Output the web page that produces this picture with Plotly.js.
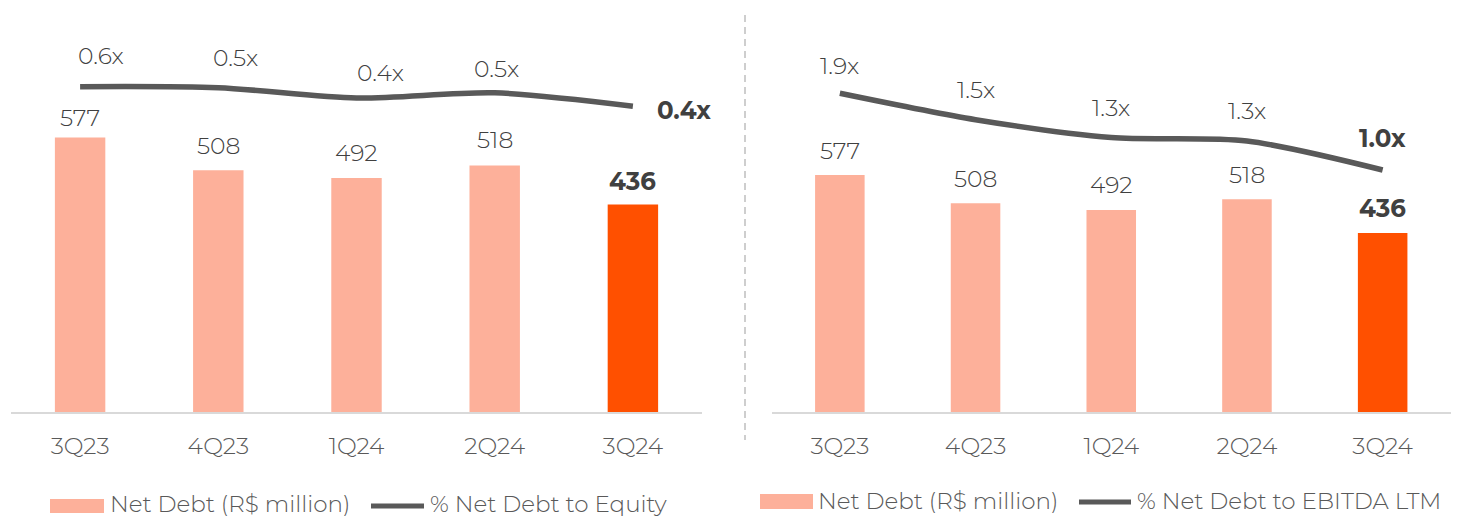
<!DOCTYPE html>
<html>
<head>
<meta charset="utf-8">
<script src="https://cdn.plot.ly/plotly-3.0.1.min.js"></script>
<style>
  html, body { margin: 0; padding: 0; background: #ffffff; }
  #chart { width: 1462px; height: 518px; }
</style>
</head>
<body>
<div id="chart"></div>
<script>
// ---- Data ----
const categories = ['3Q23', '4Q23', '1Q24', '2Q24', '3Q24'];
const netDebt = [577, 508, 492, 518, 436];
const debtToEquity = [0.55, 0.54, 0.44, 0.49, 0.36];
const debtToEquityLabels = ['0.6x', '0.5x', '0.4x', '0.5x', '0.4x'];
const debtToEbitda = [1.90, 1.59, 1.38, 1.34, 1.00];
const debtToEbitdaLabels = ['1.9x', '1.5x', '1.3x', '1.3x', '1.0x'];
const barSeriesName = 'Net Debt (R$ million)';
const leftLineName = '% Net Debt to Equity';
const rightLineName = '% Net Debt to EBITDA LTM';

// ---- Style ----
const W = 1462, H = 518;
const FONT = "Montserrat, 'Open Sans', sans-serif";
const LIGHT = '#FDB09A';
const HIGHLIGHT = '#FF5000';
const LINE = '#595959';
const TEXT = '#404040';
const TICK = '#595959';
const px = x => x / W;
const py = y => (H - y) / H;
const REG = { family: FONT, size: 23.5, color: TEXT, weight: 300 };
const BOLD = { family: FONT, size: 24.5, color: TEXT, weight: 700 };

const last = categories.length - 1;
const barColors = categories.map((c, i) => i === last ? HIGHLIGHT : LIGHT);

const traces = [
  { type: 'bar', x: categories, y: netDebt, xaxis: 'x', yaxis: 'y', width: 0.365,
    marker: { color: barColors }, name: barSeriesName, hoverinfo: 'skip' },
  { type: 'scatter', mode: 'lines', x: categories, y: debtToEquity, xaxis: 'x', yaxis: 'y2',
    line: { color: LINE, width: 5.5, shape: 'spline', smoothing: 0.8 }, name: leftLineName, hoverinfo: 'skip' },
  { type: 'bar', x: categories, y: netDebt, xaxis: 'x2', yaxis: 'y3', width: 0.365,
    marker: { color: barColors }, name: barSeriesName, hoverinfo: 'skip' },
  { type: 'scatter', mode: 'lines', x: categories, y: debtToEbitda, xaxis: 'x2', yaxis: 'y4',
    line: { color: LINE, width: 5.5, shape: 'spline', smoothing: 0.8 }, name: rightLineName, hoverinfo: 'skip' }
];

const annotations = [];
// bar value labels
const leftBarShift = [20, 25, 25, 26, 24];
categories.forEach((c, i) => {
  const bold = i === last;
  annotations.push({ xref: 'x', yref: 'y', x: c, y: netDebt[i], showarrow: false,
    text: bold ? '<b>' + netDebt[i] + '</b>' : String(netDebt[i]),
    yanchor: 'middle', yshift: leftBarShift[i], font: bold ? BOLD : REG });
  annotations.push({ xref: 'x2', yref: 'y3', x: c, y: netDebt[i], showarrow: false,
    text: bold ? '<b>' + netDebt[i] + '</b>' : String(netDebt[i]),
    yanchor: 'middle', yshift: 25, font: bold ? BOLD : REG });
});
// line labels left
const leftLineYShift = [31, 30, 25, 24];
const leftLineXShift = [21, 17, 24, 2];
categories.forEach((c, i) => {
  if (i === last) {
    annotations.push({ xref: 'x', yref: 'y2', x: c, y: debtToEquity[i], showarrow: false,
      text: '<b>' + debtToEquityLabels[i] + '</b>', xanchor: 'left', yanchor: 'middle',
      xshift: 22, yshift: -4, font: BOLD });
  } else {
    annotations.push({ xref: 'x', yref: 'y2', x: c, y: debtToEquity[i], showarrow: false,
      text: debtToEquityLabels[i], yanchor: 'middle',
      xshift: leftLineXShift[i], yshift: leftLineYShift[i], font: REG });
  }
});
// line labels right
const rightLineYShift = [28, 30, 30, 31, 32];
categories.forEach((c, i) => {
  const bold = i === last;
  annotations.push({ xref: 'x2', yref: 'y4', x: c, y: debtToEbitda[i], showarrow: false,
    text: bold ? '<b>' + debtToEbitdaLabels[i] + '</b>' : debtToEbitdaLabels[i], yanchor: 'middle',
    yshift: rightLineYShift[i], font: bold ? BOLD : REG });
});

// manual legends
const legendFont = { family: FONT, size: 23, color: TICK, weight: 300 };
annotations.push({ xref: 'paper', yref: 'paper', x: px(108), y: py(503.5), xanchor: 'left', yanchor: 'middle',
  showarrow: false, text: barSeriesName, font: legendFont });
annotations.push({ xref: 'paper', yref: 'paper', x: px(428), y: py(503.5), xanchor: 'left', yanchor: 'middle',
  showarrow: false, text: leftLineName, font: legendFont });
annotations.push({ xref: 'paper', yref: 'paper', x: px(816), y: py(501), xanchor: 'left', yanchor: 'middle',
  showarrow: false, text: barSeriesName, font: legendFont });
annotations.push({ xref: 'paper', yref: 'paper', x: px(1135), y: py(501), xanchor: 'left', yanchor: 'middle',
  showarrow: false, text: rightLineName, font: legendFont });

const shapes = [
  // divider
  { type: 'line', xref: 'paper', yref: 'paper', x0: px(745), x1: px(745), y0: py(15), y1: py(440),
    line: { color: '#BFBFBF', width: 1.5, dash: '7px,5px' } },
  // legend symbols
  { type: 'rect', xref: 'paper', yref: 'paper', x0: px(50), x1: px(104), y0: py(513), y1: py(499),
    fillcolor: LIGHT, line: { width: 0 } },
  { type: 'line', xref: 'paper', yref: 'paper', x0: px(371), x1: px(424), y0: py(506), y1: py(506),
    line: { color: LINE, width: 5 } },
  { type: 'rect', xref: 'paper', yref: 'paper', x0: px(760), x1: px(813), y0: py(509), y1: py(494),
    fillcolor: LIGHT, line: { width: 0 } },
  { type: 'line', xref: 'paper', yref: 'paper', x0: px(1079), x1: px(1131), y0: py(502), y1: py(502),
    line: { color: LINE, width: 5 } }
];

const yDomain = [py(412), py(10)];
const xCommon = { type: 'category', showline: true, linecolor: '#D9D9D9', linewidth: 2,
  showgrid: false, zeroline: false, ticks: '', ticklabelstandoff: 12, automargin: false,
  range: [-0.5, categories.length - 0.5], autorange: false,
  tickfont: { family: FONT, size: 23.5, color: TICK, weight: 300 }, fixedrange: true };
const yHidden = { visible: false, showgrid: false, zeroline: false, fixedrange: true, automargin: false };

const layout = {
  width: W, height: H,
  margin: { l: 0, r: 0, t: 0, b: 0, pad: 0, autoexpand: false },
  paper_bgcolor: '#ffffff', plot_bgcolor: '#ffffff',
  showlegend: false,
  font: { family: FONT, color: TICK },
  xaxis: Object.assign({}, xCommon, { domain: [px(11), px(702)], anchor: 'y' }),
  yaxis: Object.assign({}, yHidden, { domain: yDomain, range: [0, 845.1], anchor: 'x' }),
  yaxis2: Object.assign({}, yHidden, { overlaying: 'y', range: [-2.618, 1.2968], anchor: 'x' }),
  xaxis2: Object.assign({}, xCommon, { domain: [px(772), px(1450.5)], anchor: 'y3' }),
  yaxis3: Object.assign({}, yHidden, { domain: yDomain, range: [0, 978.8], anchor: 'x2' }),
  yaxis4: Object.assign({}, yHidden, { overlaying: 'y3', range: [-1.8406, 2.8777], anchor: 'x2' }),
  annotations: annotations,
  shapes: shapes
};

Plotly.newPlot('chart', traces, layout, { displayModeBar: false, staticPlot: true });
</script>
</body>
</html>
